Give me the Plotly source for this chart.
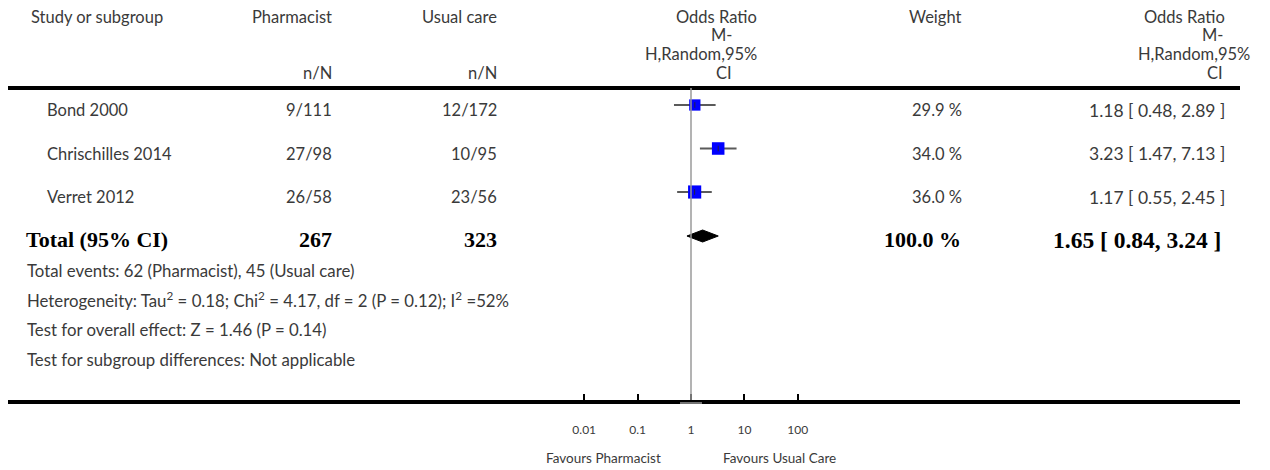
import plotly.graph_objects as go

# ---------------- data ----------------
studies = ["Bond 2000", "Chrischilles 2014", "Verret 2012"]
pharm_nN = ["9/111", "27/98", "26/58"]
usual_nN = ["12/172", "10/95", "23/56"]
weights = [29.9, 34.0, 36.0]
or_est = [1.18, 3.23, 1.17]
or_lo = [0.48, 1.47, 0.55]
or_hi = [2.89, 7.13, 2.45]

total_label = "Total (95% CI)"
total_pharm = "267"
total_usual = "323"
total_weight = 100.0
total_est = 1.65
total_lo = 0.84
total_hi = 3.24

footnotes = [
    "Total events: 62 (Pharmacist), 45 (Usual care)",
    "Heterogeneity: Tau<sup>2</sup> = 0.18; Chi<sup>2</sup> = 4.17, df = 2 (P = 0.12); I<sup>2</sup> =52%",
    "Test for overall effect: Z = 1.46 (P = 0.14)",
    "Test for subgroup differences: Not applicable",
]

tick_vals = [0.01, 0.1, 1, 10, 100]
tick_text = ["0.01", "0.1", "1", "10", "100"]
favours_left = "Favours Pharmacist"
favours_right = "Favours Usual Care"

# ---------------- layout constants ----------------
W, H = 1270, 470
X_ONE = 691          # pixel of OR = 1
DECADE = 53.4        # pixels per decade
AX_L, AX_R = 8, 1240 # axis line extent
AX_Y = 400           # axis line pixel y
FONT = "Lato, Open Sans, sans-serif"
SERIF = "Liberation Serif, DejaVu Serif, serif"
TXT = "#3a3a3a"
FS = 16.5

def px(p):
    return p / W

def py(p):
    return 1 - p / H

row_y = [110 + 43.5 * i for i in range(len(studies))]
total_y = 240
foot_y = [270 + 29.7 * i for i in range(len(footnotes))]

xrange_ = [(AX_L - X_ONE) / DECADE, (AX_R - X_ONE) / DECADE]

fig = go.Figure()

# CI lines
for i in range(len(studies)):
    fig.add_trace(go.Scatter(
        x=[or_lo[i], or_hi[i]], y=[row_y[i] - 5, row_y[i] - 5],
        mode="lines", line=dict(color="#5a5a5a", width=2),
        hoverinfo="skip", showlegend=False))

# squares
fig.add_trace(go.Scatter(
    x=or_est, y=[y - 5 for y in row_y], mode="markers",
    marker=dict(symbol="square", color="#0000ff", opacity=1,
                size=[2 + w * 0.31 for w in weights],
                line=dict(width=0)),
    hoverinfo="skip", showlegend=False))

# small centre ticks
fig.add_trace(go.Scatter(
    x=or_est, y=[y - 5 for y in row_y], mode="markers",
    marker=dict(symbol="line-ns", size=4, line=dict(color="#222244", width=1)),
    hoverinfo="skip", showlegend=False))

# diamond
dy = total_y - 4
fig.add_trace(go.Scatter(
    x=[total_lo, total_est, total_hi, total_est, total_lo],
    y=[dy, dy - 6, dy, dy + 6, dy],
    mode="lines", fill="toself", fillcolor="black",
    line=dict(color="black", width=1),
    hoverinfo="skip", showlegend=False))

annotations = []

def txt(x, y, s, anchor="left", size=FS, color=TXT, family=FONT):
    annotations.append(dict(
        x=px(x), y=py(y), xref="paper", yref="paper", text=s,
        showarrow=False, xanchor=anchor, yanchor="middle",
        font=dict(family=family, size=size, color=color)))

# header
txt(29, 17, "Study or subgroup")
txt(334, 17, "Pharmacist", "right")
txt(499, 17, "Usual care", "right")
txt(334, 72.5, "n/N", "right")
txt(499, 72.5, "n/N", "right")
for yy, s, xr in [(17, "Odds Ratio", 759), (35.5, "M-", 734), (54, "H,Random,95%", 759), (72.5, "CI", 734)]:
    txt(xr, yy, s, "right")
txt(963, 17, "Weight", "right")
for yy, s, xr in [(17, "Odds Ratio", 1227), (35.5, "M-", 1225), (54, "H,Random,95%", 1252), (72.5, "CI", 1225)]:
    txt(xr, yy, s, "right")

# study rows
for i, s in enumerate(studies):
    txt(45, row_y[i], s)
    txt(334, row_y[i], pharm_nN[i], "right")
    txt(499, row_y[i], usual_nN[i], "right")
    txt(964, row_y[i], f"{weights[i]:.1f} %", "right")
    txt(1227, row_y[i], f"{or_est[i]:.2f} [ {or_lo[i]:.2f}, {or_hi[i]:.2f} ]", "right", size=17.5)

# total row
bold = dict(color="black", family=SERIF)
txt(24, total_y, f"<b>{total_label}</b>", size=22, **bold)
txt(334, total_y, f"<b>{total_pharm}</b>", "right", size=22, **bold)
txt(499, total_y, f"<b>{total_usual}</b>", "right", size=22, **bold)
txt(963, total_y, f"<b>{total_weight:.1f} %</b>", "right", size=22, **bold)
txt(1223, total_y, f"<b>{total_est:.2f} [ {total_lo:.2f}, {total_hi:.2f} ]</b>", "right", size=23.5, **bold)

# footnotes
for i, s in enumerate(footnotes):
    txt(25, foot_y[i], s, size=16.8)

# favours labels
txt(603, 458, favours_left, "center", size=13.5)
txt(779, 458, favours_right, "center", size=13.5)

shapes = [
    dict(type="line", xref="paper", yref="paper", x0=px(AX_L), x1=px(AX_R),
         y0=py(88), y1=py(88), line=dict(color="black", width=4)),
    dict(type="line", xref="x", yref="y", x0=1, x1=1, y0=88, y1=AX_Y,
         line=dict(color="#9a9a9a", width=1.5)),
    dict(type="line", xref="paper", yref="paper", x0=px(X_ONE - 11), x1=px(X_ONE + 11),
         y0=py(AX_Y + 3), y1=py(AX_Y + 3), line=dict(color="#9a9a9a", width=1.5)),
]

fig.update_layout(
    width=W, height=H,
    margin=dict(l=0, r=0, t=0, b=0),
    paper_bgcolor="white", plot_bgcolor="white",
    showlegend=False,
    annotations=annotations, shapes=shapes,
    xaxis=dict(type="log", domain=[px(AX_L), px(AX_R)], range=xrange_,
               showgrid=False, zeroline=False,
               showline=True, linecolor="black", linewidth=4,
               ticks="inside", ticklen=6, tickwidth=2, tickcolor="black",
               tickvals=tick_vals, ticktext=tick_text,
               ticklabelstandoff=16,
               tickfont=dict(family=FONT, size=12, color=TXT),
               fixedrange=True),
    yaxis=dict(domain=[(H - AX_Y) / H, 1], range=[AX_Y, 0],
               visible=False, fixedrange=True),
)

fig.write_html("out.html", config={"displayModeBar": False},
               post_script="document.body.style.margin='0px';")
